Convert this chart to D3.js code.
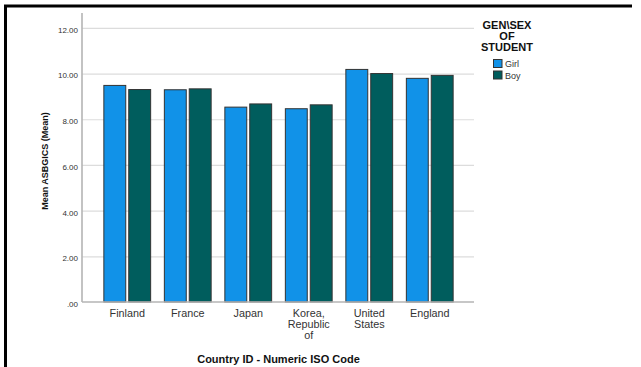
<!DOCTYPE html>
<html>
<head>
<meta charset="utf-8">
<script src="https://cdn.jsdelivr.net/npm/d3@7/dist/d3.min.js"></script>
<style>
  html, body { margin: 0; padding: 0; background: #fff; }
  svg { display: block; font-family: "Liberation Sans", Arial, sans-serif; }
</style>
</head>
<body>
<svg id="chart" width="641" height="367"></svg>
<script>
// Countries on the category axis (label lines as drawn under each group)
const countries = ["Finland", "France", "Japan", "Korea, Republic of", "United States", "England"];
const countryLines = [["Finland"], ["France"], ["Japan"], ["Korea,", "Republic", "of"], ["United", "States"], ["England"]];

// Mean ASBGICS by sex
const sexes = ["Girl", "Boy"];
const girlMeans = [9.48, 9.29, 8.53, 8.46, 10.18, 9.79];
const boyMeans  = [9.30, 9.33, 8.67, 8.63, 10.00, 9.92];

// Value axis ticks
const yTickValues = [0, 2, 4, 6, 8, 10, 12];
const yTickLabels = [".00", "2.00", "4.00", "6.00", "8.00", "10.00", "12.00"];

const colors = { Girl: "#1192e8", Boy: "#005d5d" };

const rows = countries.map((c, i) => ({ country: c, Girl: girlMeans[i], Boy: boyMeans[i] }));

const svg = d3.select("#chart");

// Outer frame (top and left edges)
svg.append("path")
  .attr("d", "M5.5,367 L5.5,6 L632,6")
  .attr("fill", "none")
  .attr("stroke", "#000")
  .attr("stroke-width", 3);

const plot = { left: 82, right: 474, top: 13, bottom: 302 };

const y = d3.scaleLinear().domain([0, 12.65]).range([plot.bottom, plot.top]);

const x = d3.scaleBand()
  .domain(countries)
  .range([97, 460])
  .paddingInner(0.21)
  .paddingOuter(0.105);

const xInner = d3.scaleBand()
  .domain(sexes)
  .range([0, x.bandwidth()])
  .paddingInner(0.08);

// Gridlines
const grid = svg.append("g")
  .attr("transform", `translate(${plot.left},0)`)
  .call(d3.axisLeft(y).tickValues(yTickValues.filter(v => v > 0)).tickSize(-(plot.right - plot.left)).tickFormat(""));
grid.select(".domain").remove();
grid.selectAll(".tick line").attr("stroke", "#dcdcdc").attr("stroke-width", 1.2);

// Bars
const groups = svg.append("g").selectAll("g")
  .data(rows)
  .join("g")
  .attr("transform", d => `translate(${x(d.country)},0)`);

groups.selectAll("rect")
  .data(d => sexes.map(s => ({ sex: s, value: d[s] })))
  .join("rect")
  .attr("x", d => xInner(d.sex) + 0.5)
  .attr("width", xInner.bandwidth() - 1)
  .attr("y", d => y(d.value))
  .attr("height", d => y(0) - y(d.value))
  .attr("fill", d => colors[d.sex])
  .attr("stroke", "#333")
  .attr("stroke-width", 1);

// Y axis
const yAxis = svg.append("g")
  .attr("transform", `translate(${plot.left},0)`)
  .call(d3.axisLeft(y).tickValues(yTickValues).tickSize(0).tickPadding(4)
    .tickFormat((d, i) => yTickLabels[i]));
yAxis.select(".domain").remove();
yAxis.selectAll(".tick text")
  .attr("font-size", 8)
  .attr("font-family", "'Liberation Sans', Arial, sans-serif")
  .attr("fill", "#333")
  .attr("dy", "0.55em");

svg.append("line")
  .attr("x1", plot.left).attr("x2", plot.left)
  .attr("y1", plot.top).attr("y2", plot.bottom)
  .attr("stroke", "#b4b4b4").attr("stroke-width", 1.6);

// X axis baseline
svg.append("line")
  .attr("x1", plot.left).attr("x2", plot.right)
  .attr("y1", plot.bottom).attr("y2", plot.bottom)
  .attr("stroke", "#b4b4b4").attr("stroke-width", 1.6);

// Category labels
const xAxis = svg.append("g")
  .attr("transform", `translate(0,${plot.bottom})`)
  .call(d3.axisBottom(x).tickSize(0).tickFormat(""));
xAxis.select(".domain").remove();
xAxis.selectAll(".tick").each(function(d, i) {
  const t = d3.select(this).append("text")
    .attr("text-anchor", "middle")
    .attr("font-size", 10.8)
    .attr("font-family", "'Liberation Sans', Arial, sans-serif")
    .attr("fill", "#333");
  countryLines[i].forEach((line, k) => {
    t.append("tspan").attr("x", 0).attr("y", 15 + k * 11).text(line);
  });
});

// Axis titles
svg.append("text")
  .attr("transform", `translate(48,161) rotate(-90)`)
  .attr("text-anchor", "middle")
  .attr("font-size", 9)
  .attr("font-weight", "bold")
  .attr("fill", "#111")
  .text("Mean ASBGICS (Mean)");

svg.append("text")
  .attr("x", 278.5).attr("y", 362.5)
  .attr("text-anchor", "middle")
  .attr("font-size", 11)
  .attr("font-weight", "bold")
  .attr("fill", "#111")
  .text("Country ID - Numeric ISO Code");

// Legend
const legendTitle = ["GEN\\SEX", "OF", "STUDENT"];
svg.append("g").selectAll("text")
  .data(legendTitle)
  .join("text")
  .attr("x", 507)
  .attr("y", (d, i) => 29 + i * 11)
  .attr("text-anchor", "middle")
  .attr("font-size", 11)
  .attr("font-weight", "bold")
  .attr("fill", "#111")
  .text(d => d);

const legendItems = svg.append("g").selectAll("g")
  .data(sexes)
  .join("g")
  .attr("transform", (d, i) => `translate(493.5,${59.5 + i * 11.5})`);
legendItems.append("rect")
  .attr("width", 8.5).attr("height", 8)
  .attr("fill", d => colors[d])
  .attr("stroke", "#333").attr("stroke-width", 1);
legendItems.append("text")
  .attr("x", 11.5).attr("y", 7.5)
  .attr("font-size", 9)
  .attr("fill", "#333")
  .text(d => d);
</script>
</body>
</html>
